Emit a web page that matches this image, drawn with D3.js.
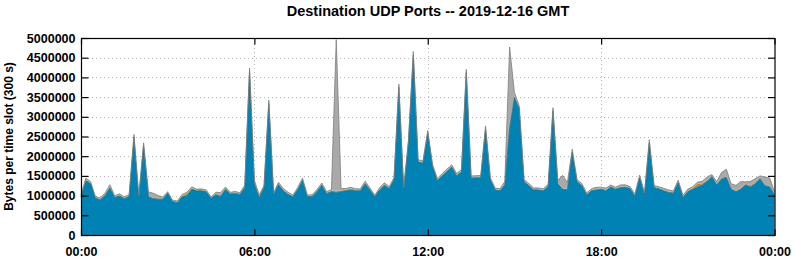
<!DOCTYPE html>
<html>
<head>
<meta charset="utf-8">
<script src="https://cdnjs.cloudflare.com/ajax/libs/d3/7.8.5/d3.min.js"></script>
<style>
  body { margin: 0; background: #fff; }
  svg text { font-family: "Liberation Sans", Arial, sans-serif; font-weight: bold; }
</style>
</head>
<body>
<div id="chart"></div>
<script>
// one value per 10 minute slot, 00:00 .. 24:00, in thousands of bytes
var slotMinutes = 10;

// main (blue) port
var bluePort = [
  970, 1380, 1300, 930, 890, 1000, 1190, 950, 990, 920, 980, 2480,
  950, 2270, 970, 920, 910, 910, 1060, 850, 820, 970, 990, 1160,
  1120, 1120, 1100, 930, 1020, 980, 1160, 1040, 1050, 1030, 1200, 4150,
  1300, 950, 1200, 3340, 1020, 1280, 1120, 1030, 970, 1150, 1380, 970,
  980, 1100, 1260, 1050, 1100, 1080, 1100, 1120, 1140, 1120, 1120, 1300,
  1140, 970, 1140, 1260, 1180, 1400, 3750, 1140, 2350, 4570, 1850, 1820,
  2580, 1730, 1380, 1500, 1610, 1720, 1500, 1600, 4120, 1440, 1450, 1450,
  2690, 1400, 1140, 1120, 1270, 2700, 3490, 3200, 1350, 1250, 1140, 1140,
  1120, 1230, 3150, 1300, 1160, 1150, 2100, 1350, 1250, 1020, 1120, 1140,
  1160, 1120, 1220, 1160, 1200, 1210, 1180, 980, 1450, 1020, 2340, 1200,
  1170, 1120, 1080, 1060, 1330, 950, 1100, 1160, 1220, 1270, 1360, 1480,
  1270, 1420, 1460, 1160, 1100, 1160, 1270, 1220, 1300, 1430, 1250, 1220,
  1020
];

var greenPort = [
  15, 20, 15, 10, 15, 20, 25, 10, 15, 10, 15, 20,
  10, 20, 15, 10, 10, 15, 10, 10, 15, 20, 60, 20,
  15, 10, 15, 10, 15, 20, 15, 10, 15, 10, 20, 25,
  15, 10, 15, 20, 10, 15, 10, 15, 10, 15, 20, 10,
  10, 15, 15, 10, 15, 20, 15, 10, 15, 10, 15, 20,
  15, 10, 15, 20, 15, 15, 20, 15, 20, 25, 15, 15,
  20, 15, 15, 15, 20, 15, 15, 15, 25, 15, 15, 15,
  20, 15, 10, 15, 15, 20, 25, 20, 15, 15, 10, 15,
  15, 10, 20, 15, 15, 15, 20, 15, 15, 10, 15, 15,
  15, 15, 10, 15, 15, 15, 10, 10, 15, 10, 20, 15,
  15, 15, 10, 15, 15, 10, 15, 15, 20, 15, 20, 15,
  15, 20, 20, 15, 10, 15, 15, 15, 20, 15, 15, 15,
  10
];

var orangePort = [
  10, 15, 10, 10, 15, 15, 20, 10, 10, 15, 10, 20,
  15, 20, 10, 10, 15, 10, 10, 10, 10, 15, 15, 15,
  10, 15, 10, 10, 10, 15, 15, 10, 10, 15, 15, 20,
  15, 10, 10, 20, 10, 15, 10, 10, 10, 10, 15, 10,
  10, 10, 15, 10, 10, 20, 15, 20, 25, 15, 10, 15,
  10, 10, 15, 15, 10, 15, 20, 10, 20, 20, 15, 15,
  15, 15, 10, 15, 15, 15, 15, 15, 20, 15, 10, 15,
  20, 10, 10, 10, 15, 20, 20, 15, 10, 10, 15, 10,
  10, 15, 20, 15, 10, 10, 20, 10, 10, 10, 10, 15,
  10, 15, 10, 10, 15, 10, 10, 10, 15, 10, 20, 10,
  10, 10, 15, 10, 15, 10, 10, 20, 60, 30, 15, 10,
  10, 15, 20, 15, 10, 20, 15, 25, 10, 15, 10, 15,
  10
];

// everything else (gray, on top)
var otherPorts = [
  20, 30, 30, 25, 20, 30, 40, 25, 30, 20, 25, 30,
  20, 30, 100, 120, 70, 30, 20, 15, 20, 25, 20, 30,
  20, 25, 20, 15, 40, 60, 30, 25, 30, 20, 30, 40,
  60, 50, 30, 40, 30, 30, 40, 30, 25, 30, 30, 25,
  20, 30, 30, 25, 30, 3840, 50, 30, 30, 30, 25, 30,
  30, 20, 30, 30, 25, 30, 40, 30, 40, 40, 30, 30,
  40, 30, 30, 30, 30, 30, 30, 30, 40, 30, 30, 30,
  40, 30, 30, 30, 60, 2030, 80, 40, 30, 30, 30, 30,
  30, 30, 40, 60, 330, 160, 40, 30, 30, 30, 30, 40,
  30, 40, 30, 30, 40, 40, 30, 40, 40, 30, 40, 30,
  30, 40, 40, 30, 30, 40, 40, 30, 40, 50, 80, 30,
  60, 130, 170, 110, 140, 160, 50, 100, 100, 40, 200, 200,
  60
];

var yTicks = [0, 500000, 1000000, 1500000, 2000000, 2500000, 3000000, 3500000, 4000000, 4500000, 5000000];
var xTicks = [0, 360, 720, 1080, 1440];
var xTickLabels = ["00:00", "06:00", "12:00", "18:00", "00:00"];

// stacking order bottom -> top; only blue and the top layer get an edge line
var layers = [
  { key: "blue", fill: "#0083b4", line: "#2b6b80" },
  { key: "green", fill: "#7da53a", line: null },
  { key: "orange", fill: "#e0761a", line: null },
  { key: "other", fill: "#a9a9a9", line: "#7e7e7e" }
];

var width = 795, height = 260;
var margin = { top: 38, right: 20, bottom: 25, left: 81 };

// build rows for d3.stack (bytes)
var rows = bluePort.map(function (v, i) {
  return {
    minute: i * slotMinutes,
    blue: v * 1000,
    green: greenPort[i] * 1000,
    orange: orangePort[i] * 1000,
    other: otherPorts[i] * 1000
  };
});

var svg = d3.select("#chart").append("svg")
  .attr("width", width)
  .attr("height", height);

var x = d3.scaleLinear().domain([0, 1440]).range([margin.left, width - margin.right - 0.5]);
var y = d3.scaleLinear().domain([0, 5000000]).range([height - margin.bottom, margin.top]);

// dotted grid behind the areas
var grid = svg.append("g").attr("stroke", "#b4b4b4").attr("stroke-dasharray", "1,3");
grid.selectAll(".hgrid")
  .data(yTicks.slice(1, -1))
  .enter().append("line")
  .attr("x1", x(0) + 7).attr("x2", x(1440) - 7)
  .attr("y1", function (d) { return Math.round(y(d)) + 0.5; })
  .attr("y2", function (d) { return Math.round(y(d)) + 0.5; });
grid.selectAll(".vgrid")
  .data(xTicks.slice(1, -1))
  .enter().append("line")
  .attr("x1", function (d) { return Math.round(x(d)) + 0.5; })
  .attr("x2", function (d) { return Math.round(x(d)) + 0.5; })
  .attr("y1", y(5000000) + 6).attr("y2", y(0));

// stacked areas
var stack = d3.stack().keys(layers.map(function (l) { return l.key; }));
var series = stack(rows);

var area = d3.area()
  .x(function (d) { return x(d.data.minute); })
  .y0(function (d) { return y(d[0]); })
  .y1(function (d) { return y(d[1]); });

var topLine = d3.line()
  .x(function (d) { return x(d.data.minute); })
  .y(function (d) { return y(d[1]); });

svg.selectAll(".layer")
  .data(series)
  .enter().append("path")
  .attr("class", "layer")
  .attr("d", area)
  .attr("fill", function (d, i) { return layers[i].fill; });

svg.selectAll(".edge")
  .data(series.filter(function (d, i) { return layers[i].line; }))
  .enter().append("path")
  .attr("class", "edge")
  .attr("d", topLine)
  .attr("fill", "none")
  .attr("stroke", function (d) { return layers[d.index].line; })
  .attr("stroke-width", 0.8);

// border box
svg.append("rect")
  .attr("x", x(0) + 0.5).attr("y", y(5000000) + 0.5)
  .attr("width", x(1440) - x(0))
  .attr("height", y(0) - y(5000000))
  .attr("fill", "none")
  .attr("stroke", "#000")
  .attr("stroke-width", 1.2);

// y axis, ticks mirrored on the right
var yAxis = d3.axisLeft(y).tickValues(yTicks).tickSize(-7).tickPadding(6).tickFormat(d3.format("d"));
svg.append("g").attr("transform", "translate(" + (x(0) + 0.5) + ",0)").call(yAxis);
var yAxisR = d3.axisRight(y).tickValues(yTicks).tickSize(-7).tickFormat("");
svg.append("g").attr("transform", "translate(" + (x(1440) + 0.5) + ",0)").call(yAxisR);

// x axis, ticks mirrored on top
var xAxis = d3.axisBottom(x).tickValues(xTicks).tickSize(-6).tickPadding(12)
  .tickFormat(function (d, i) { return xTickLabels[i]; });
svg.append("g").attr("transform", "translate(0," + (y(0) + 0.5) + ")").call(xAxis);
var xAxisT = d3.axisTop(x).tickValues(xTicks).tickSize(-6).tickFormat("");
svg.append("g").attr("transform", "translate(0," + (y(5000000) + 0.5) + ")").call(xAxisT);

svg.selectAll(".domain").remove();
svg.selectAll(".tick line").attr("stroke", "#000").attr("stroke-width", 1.2);
svg.selectAll(".tick text").attr("fill", "#000").style("font-size", "12.5px")
  .style("font-family", "'Liberation Sans', Arial, sans-serif").style("font-weight", "bold");

// title and y label
svg.append("text")
  .attr("x", 428).attr("y", 16)
  .attr("text-anchor", "middle")
  .style("font-size", "14.5px")
  .text("Destination UDP Ports -- 2019-12-16 GMT");

svg.append("text")
  .attr("transform", "translate(13," + ((y(0) + y(5000000)) / 2) + ") rotate(-90)")
  .attr("text-anchor", "middle")
  .style("font-size", "12px")
  .text("Bytes per time slot (300 s)");
</script>
</body>
</html>
